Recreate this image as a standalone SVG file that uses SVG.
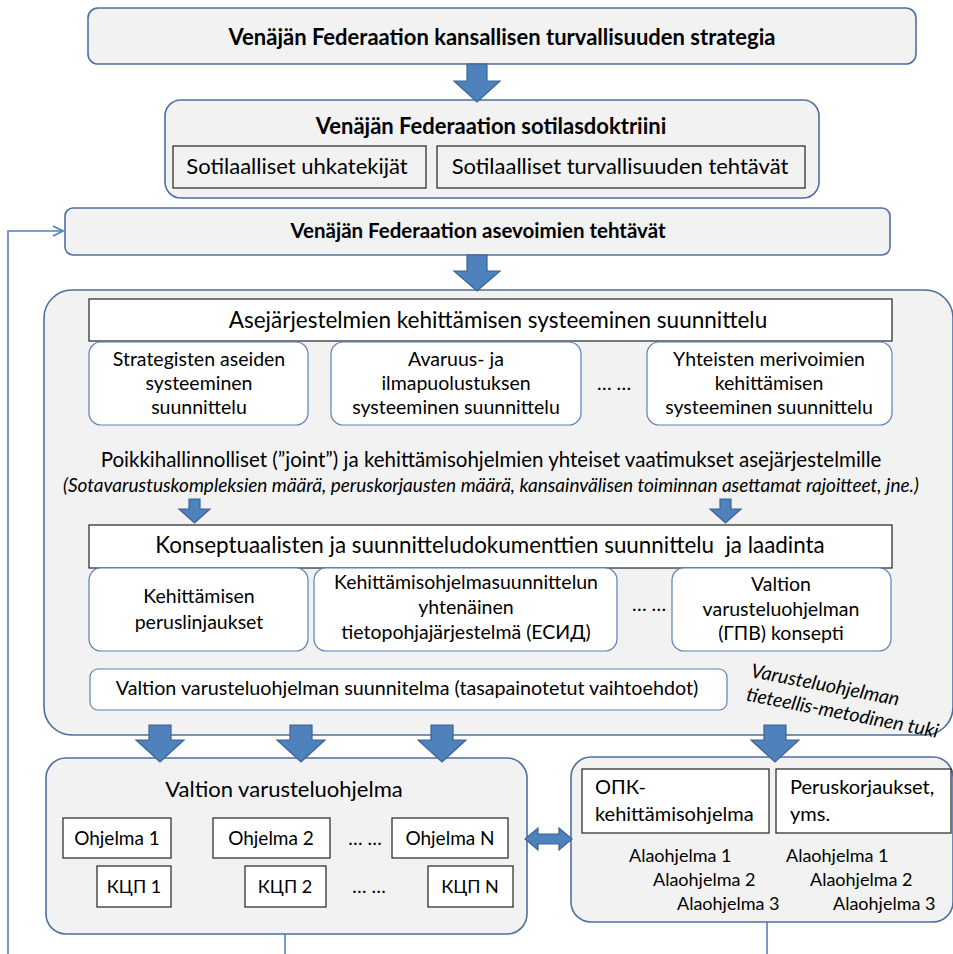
<svg xmlns="http://www.w3.org/2000/svg" width="953" height="954" viewBox="0 0 953 954">
<defs>
<style>
text{font-family:Lato,"Liberation Sans","DejaVu Sans",sans-serif;fill:#000}
.c{text-anchor:middle}
.b{font-weight:bold}
.box{fill:#f2f2f2;stroke:#4f6fa0;stroke-width:1.6}
.wb{fill:#fff;stroke:#5d80b5;stroke-width:1.2}
.sq{fill:#fff;stroke:#222;stroke-width:1.2}
.sqg{fill:#f2f2f2;stroke:#222;stroke-width:1.2}
.arr{fill:#4f81bd;stroke:#3b6494;stroke-width:1.2}
.ln{fill:none;stroke:#4f81bd;stroke-width:1.6}
.s{font-size:19.5px}
</style>
<marker id="open" viewBox="0 0 12 12" refX="11" refY="6" markerWidth="12" markerHeight="12" markerUnits="userSpaceOnUse" orient="auto">
<path d="M1 1 L11 6 L1 11" fill="none" stroke="#4f81bd" stroke-width="1.6"/>
</marker>
</defs>
<rect width="953" height="954" fill="#fff"/>

<g id="strategy">
<rect class="box" x="88" y="8" width="828" height="56" rx="10"/>
<text class="c b" x="502" y="45" font-size="22">Venäjän Federaation kansallisen turvallisuuden strategia</text>
</g>

<g id="doctrine">
<rect class="box" x="165" y="100" width="654" height="98" rx="16"/>
<text class="c b" x="491" y="134" font-size="22">Venäjän Federaation sotilasdoktriini</text>
<rect class="sqg" x="173" y="146" width="253" height="42"/>
<text class="c" x="297" y="174" font-size="22">Sotilaalliset uhkatekijät</text>
<rect class="sqg" x="437" y="146" width="368" height="42"/>
<text class="c" x="620" y="174" font-size="22">Sotilaalliset turvallisuuden tehtävät</text>
</g>

<g id="armed-forces">
<rect class="box" x="65" y="208" width="825" height="47" rx="8"/>
<text class="c b" x="478" y="238" font-size="20.5">Venäjän Federaation asevoimien tehtävät</text>
</g>

<g id="planning">
<rect class="box" x="44" y="290" width="909" height="445" rx="28"/>
<rect class="sq" x="89" y="299" width="803" height="42"/>
<text class="c" x="498" y="328" font-size="22.5">Asejärjestelmien kehittämisen systeeminen suunnittelu</text>
<rect class="wb" x="89" y="342" width="219" height="83" rx="12"/>
<text class="c s" x="199" y="366">Strategisten aseiden</text>
<text class="c s" x="199" y="390">systeeminen</text>
<text class="c s" x="199" y="414">suunnittelu</text>
<rect class="wb" x="331" y="342" width="250" height="83" rx="12"/>
<text class="c s" x="456" y="366">Avaruus- ja</text>
<text class="c s" x="456" y="390">ilmapuolustuksen</text>
<text class="c s" x="456" y="414">systeeminen suunnittelu</text>
<text class="c s" x="614" y="390">… …</text>
<rect class="wb" x="647" y="342" width="245" height="83" rx="12"/>
<text class="c s" x="769" y="366">Yhteisten merivoimien</text>
<text class="c s" x="769" y="390">kehittämisen</text>
<text class="c s" x="769" y="414">systeeminen suunnittelu</text>
<text class="c" x="491" y="467" font-size="20.5">Poikkihallinnolliset (”joint”) ja kehittämisohjelmien yhteiset vaatimukset asejärjestelmille</text>
<text class="c" x="491" y="492" font-size="19" font-style="italic">(Sotavarustuskompleksien määrä, peruskorjausten määrä, kansainvälisen toiminnan asettamat rajoitteet, jne.)</text>
<rect class="sq" x="89" y="525" width="803" height="43"/>
<text class="c" x="490" y="553" font-size="22.4">Konseptuaalisten ja suunnitteludokumenttien suunnittelu&#160; ja laadinta</text>
<rect class="wb" x="89" y="568" width="219" height="83" rx="12"/>
<text class="c s" x="199" y="603">Kehittämisen</text>
<text class="c s" x="199" y="629">peruslinjaukset</text>
<rect class="wb" x="314" y="568" width="303" height="83" rx="12"/>
<text class="c s" x="466" y="589">Kehittämisohjelmasuunnittelun</text>
<text class="c s" x="466" y="614">yhtenäinen</text>
<text class="c s" x="466" y="639">tietopohjajärjestelmä (ЕСИД)</text>
<text class="c s" x="649" y="611">… …</text>
<rect class="wb" x="672" y="568" width="219" height="83" rx="12"/>
<text class="c s" x="781" y="591">Valtion</text>
<text class="c s" x="781" y="616">varusteluohjelman</text>
<text class="c s" x="781" y="640">(ГПВ) konsepti</text>
<rect class="wb" x="90" y="669" width="637" height="41" rx="8"/>
<text class="c" x="407" y="695" font-size="19.7">Valtion varusteluohjelman suunnitelma (tasapainotetut vaihtoehdot)</text>
<text transform="translate(750,677) rotate(11)" font-size="19.5" font-style="italic"><tspan x="0" y="0">Varusteluohjelman</tspan><tspan x="0" y="24">tieteellis-metodinen tuki</tspan></text>
</g>

<g id="state-programme">
<rect class="box" x="46" y="758" width="481" height="176" rx="20"/>
<text class="c" x="284" y="797" font-size="22">Valtion varusteluohjelma</text>
<rect class="sq" x="63" y="818" width="108" height="40"/>
<text class="c" x="117" y="845" font-size="19">Ohjelma 1</text>
<rect class="sq" x="213" y="818" width="117" height="40"/>
<text class="c" x="271" y="845" font-size="19">Ohjelma 2</text>
<text class="c" x="365" y="845" font-size="19">… …</text>
<rect class="sq" x="392" y="818" width="116" height="40"/>
<text class="c" x="450" y="845" font-size="19">Ohjelma N</text>
<rect class="sq" x="97" y="866" width="74" height="41"/>
<text class="c" x="134" y="893" font-size="18">КЦП 1</text>
<rect class="sq" x="245" y="866" width="81" height="41"/>
<text class="c" x="285" y="893" font-size="18">КЦП 2</text>
<text class="c" x="369" y="893" font-size="19">… …</text>
<rect class="sq" x="428" y="866" width="85" height="41"/>
<text class="c" x="470" y="893" font-size="18">КЦП N</text>
</g>

<g id="other-programmes">
<rect class="box" x="571" y="757" width="382" height="165" rx="20"/>
<rect class="sq" x="582" y="769" width="187" height="64"/>
<text x="595" y="794" font-size="20">ОПК-</text>
<text x="595" y="821" font-size="20">kehittämisohjelma</text>
<rect class="sq" x="776" y="769" width="175" height="64"/>
<text x="790" y="794" font-size="20">Peruskorjaukset,</text>
<text x="790" y="821" font-size="20">yms.</text>
<text x="629" y="862" font-size="18">Alaohjelma 1</text>
<text x="653" y="886" font-size="18">Alaohjelma 2</text>
<text x="677" y="910" font-size="18">Alaohjelma 3</text>
<text x="786" y="862" font-size="18">Alaohjelma 1</text>
<text x="810" y="886" font-size="18">Alaohjelma 2</text>
<text x="833" y="910" font-size="18">Alaohjelma 3</text>
</g>

<g id="connectors">
<path class="arr" d="M467 64 H487 V81 H500 L477 102 L454 81 H467 Z"/>
<path class="arr" d="M467 255 H487 V271 H500 L477 291 L454 271 H467 Z"/>
<path class="arr" d="M189 499 H200 V509 H210 L194.5 523 L179 509 H189 Z"/>
<path class="arr" d="M720 499 H731 V509 H741 L725.5 523 L710 509 H720 Z"/>
<path class="arr" d="M149 725 H171 V740 H184 L160 762 L136 740 H149 Z"/>
<path class="arr" d="M290 725 H312 V740 H325 L301 762 L277 740 H290 Z"/>
<path class="arr" d="M431 725 H453 V740 H466 L442 762 L418 740 H431 Z"/>
<path class="arr" d="M764 725 H786 V740 H799 L775 762 L751 740 H764 Z"/>
<path class="arr" d="M525 839 L538 828 V834 H559 V828 L572 839 L559 850 V844 H538 V850 Z"/>
<path class="ln" d="M8 954 V231 H63" marker-end="url(#open)"/>
<path class="ln" d="M285 934 V954"/>
<path class="ln" d="M767 922 V954"/>
</g>
</svg>
